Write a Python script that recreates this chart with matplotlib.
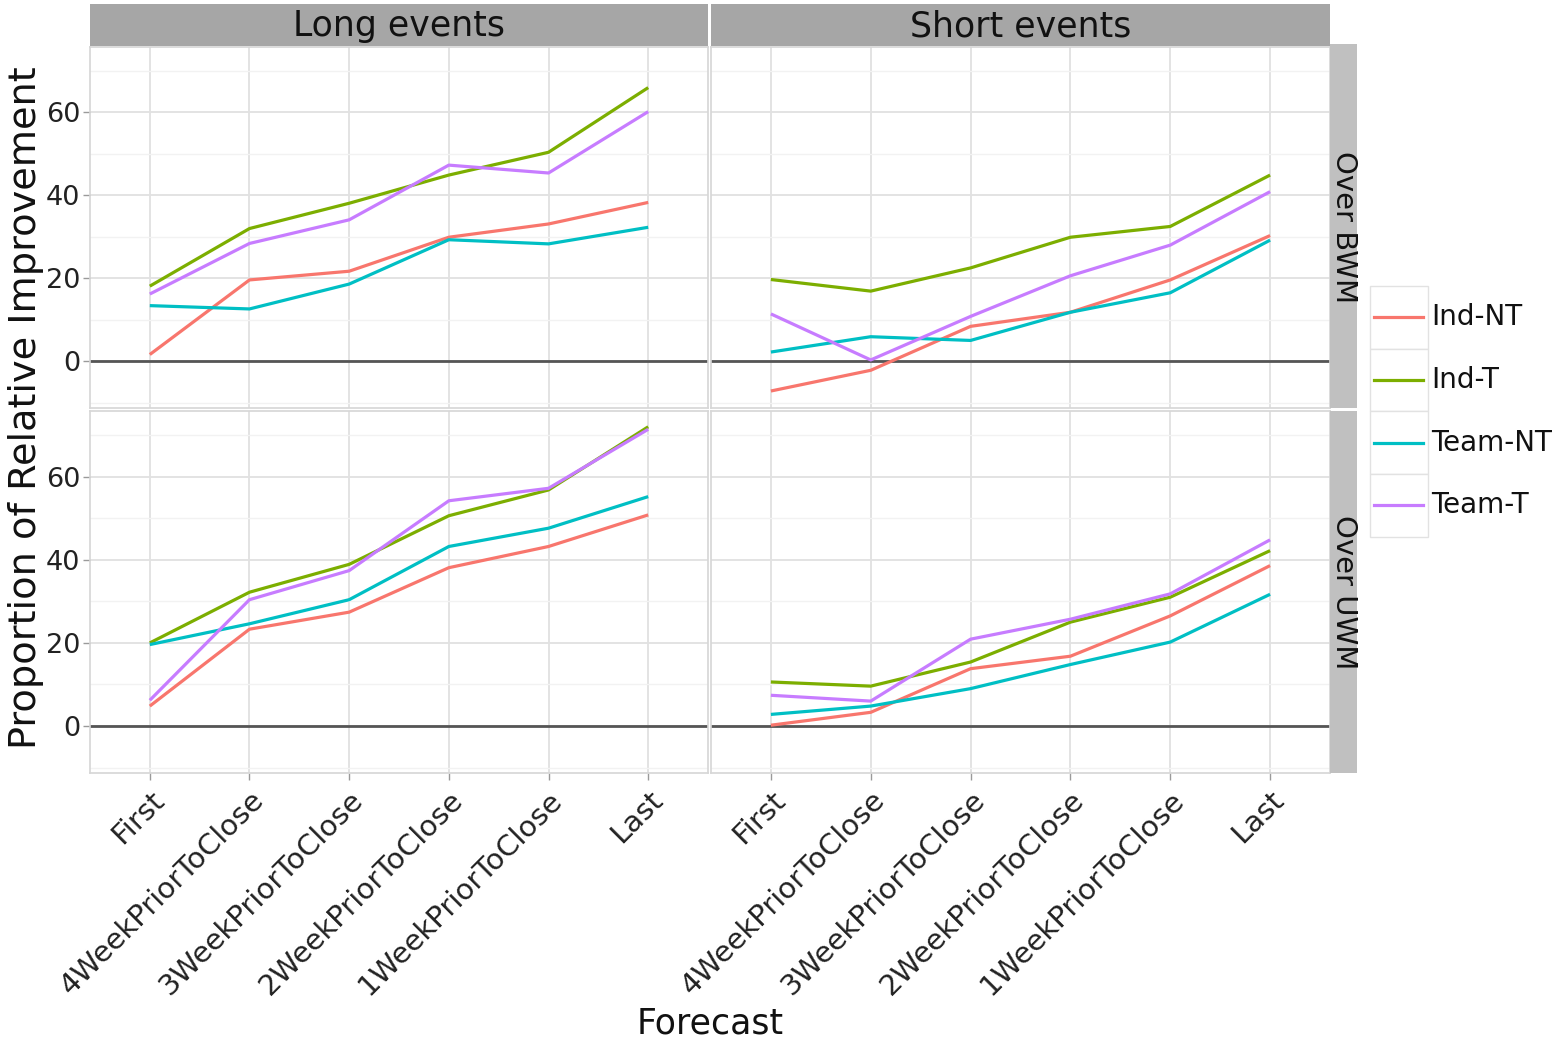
import matplotlib
matplotlib.use("Agg")
import matplotlib.pyplot as plt
from matplotlib.patches import Rectangle
from matplotlib.lines import Line2D
from matplotlib.ticker import MultipleLocator

plt.rcParams['font.family'] = ['DejaVu Sans']

# Forecast stages along the x axis
forecasts = ["First", "4WeekPriorToClose", "3WeekPriorToClose",
             "2WeekPriorToClose", "1WeekPriorToClose", "Last"]
groups = ["Ind-NT", "Ind-T", "Team-NT", "Team-T"]
colors = ["#F8766D", "#7CAE00", "#00BFC4", "#C77CFF"]
event_types = ["Long events", "Short events"]
baselines = ["Over BWM", "Over UWM"]

# Long events, improvement over BWM
long_bwm_ind_nt = [1.6, 19.6, 21.7, 29.9, 33.1, 38.3]
long_bwm_ind_t = [18.1, 32.0, 38.1, 44.9, 50.4, 66.0]
long_bwm_team_nt = [13.4, 12.6, 18.6, 29.3, 28.3, 32.3]
long_bwm_team_t = [16.2, 28.4, 34.1, 47.3, 45.4, 60.2]

# Short events, improvement over BWM
short_bwm_ind_nt = [-7.2, -2.2, 8.4, 11.8, 19.6, 30.3]
short_bwm_ind_t = [19.7, 16.9, 22.5, 29.9, 32.5, 44.9]
short_bwm_team_nt = [2.2, 5.9, 5.0, 11.8, 16.5, 29.2]
short_bwm_team_t = [11.4, 0.3, 10.8, 20.6, 28.0, 40.9]

# Long events, improvement over UWM
long_uwm_ind_nt = [4.8, 23.3, 27.4, 38.1, 43.2, 50.8]
long_uwm_ind_t = [20.0, 32.2, 38.9, 50.6, 56.8, 72.0]
long_uwm_team_nt = [19.6, 24.6, 30.4, 43.2, 47.6, 55.2]
long_uwm_team_t = [6.2, 30.4, 37.4, 54.2, 57.2, 71.4]

# Short events, improvement over UWM
short_uwm_ind_nt = [0.2, 3.3, 13.8, 16.8, 26.5, 38.6]
short_uwm_ind_t = [10.6, 9.6, 15.4, 25.0, 31.0, 42.2]
short_uwm_team_nt = [2.8, 4.8, 9.0, 14.8, 20.2, 31.7]
short_uwm_team_t = [7.4, 6.0, 20.9, 25.7, 31.8, 44.8]

panels = {
    (0, 0): [long_bwm_ind_nt, long_bwm_ind_t, long_bwm_team_nt, long_bwm_team_t],
    (0, 1): [short_bwm_ind_nt, short_bwm_ind_t, short_bwm_team_nt, short_bwm_team_t],
    (1, 0): [long_uwm_ind_nt, long_uwm_ind_t, long_uwm_team_nt, long_uwm_team_t],
    (1, 1): [short_uwm_ind_nt, short_uwm_ind_t, short_uwm_team_nt, short_uwm_team_t],
}

W, H = 1565, 1045
fig = plt.figure(figsize=(W / 100, H / 100), dpi=100)


def rect(x0, y0, x1, y1):
    """Pixel box (left, top, right, bottom) to figure fractions."""
    return [x0 / W, 1 - y1 / H, (x1 - x0) / W, (y1 - y0) / H]


col_x = [(90, 708), (711, 1330)]
row_y = [(47, 408), (411, 773)]
xpos = list(range(len(forecasts)))

for (r, c), series in panels.items():
    x0, x1 = col_x[c]
    y0, y1 = row_y[r]
    ax = fig.add_axes(rect(x0, y0, x1, y1))
    ax.set_xlim(-0.6, 5.6)
    ax.set_ylim(-11.3, 75.8)
    ax.yaxis.set_major_locator(MultipleLocator(20))
    ax.yaxis.set_minor_locator(MultipleLocator(20, offset=10))
    ax.set_xticks(xpos)
    ax.grid(True, which='major', color='#e1e1e1', lw=1.3)
    ax.grid(True, which='minor', axis='y', color='#f2f2f2', lw=1.0)
    ax.set_axisbelow(True)
    for sp in ax.spines.values():
        sp.set_color('#d6d6d6')
        sp.set_linewidth(1.2)
    ax.axhline(0, color='#555555', lw=2.0, zorder=2)
    for vals, col in zip(series, colors):
        ax.plot(xpos, vals, color=col, lw=2.3, zorder=3, solid_capstyle='butt')
    ax.tick_params(axis='both', which='minor', length=0)
    ax.tick_params(axis='y', which='major', length=5, color='#9a9a9a',
                   width=1, labelsize=19.5, pad=2, labelcolor='#222222')
    ax.tick_params(axis='x', which='major', length=5, color='#9a9a9a',
                   width=1, labelsize=21, pad=4, labelcolor='#222222')
    if c == 1:
        ax.tick_params(axis='y', labelleft=False, length=0)
    if r == 1:
        ax.set_xticklabels(forecasts, rotation=45, ha='right', va='top',
                           rotation_mode='anchor')
    else:
        ax.tick_params(axis='x', labelbottom=False, length=0)

# Column strips
for (x0, x1), label in zip(col_x, event_types):
    sax = fig.add_axes(rect(x0, 4, x1, 46))
    sax.set_xlim(0, 1)
    sax.set_ylim(0, 1)
    sax.axis('off')
    sax.add_patch(Rectangle((0, 0), 1, 1, facecolor='#a6a6a6',
                            edgecolor='none', transform=sax.transAxes))
    sax.text(0.5, 0.47, label, ha='center', va='center', fontsize=25,
             color='#111111', transform=sax.transAxes)

# Row strips
for (y0, y1), label in zip(row_y, baselines):
    sax = fig.add_axes(rect(1330, y0, 1357, y1))
    sax.set_xlim(0, 1)
    sax.set_ylim(0, 1)
    sax.axis('off')
    sax.add_patch(Rectangle((0, 0), 1, 1, facecolor='#c0c0c0',
                            edgecolor='none', transform=sax.transAxes))
    sax.text(0.5, 0.5, label, ha='center', va='center', rotation=-90,
             fontsize=21, color='#111111', transform=sax.transAxes)
cap = fig.add_axes(rect(1330, 44, 1357, 47))
cap.add_patch(Rectangle((0, 0), 1, 1, facecolor='#c0c0c0', edgecolor='none'))
cap.axis('off')

# Legend with individually boxed keys
lax = fig.add_axes(rect(1365, 284, 1565, 540))
lax.set_xlim(1365, 1565)
lax.set_ylim(540, 284)
lax.axis('off')
top = 286
step = 62.7
for i, (g, col) in enumerate(zip(groups, colors)):
    yt = top + i * step
    lax.add_patch(Rectangle((1370, yt), 58, step, facecolor='white',
                            edgecolor='#e2e2e2', lw=1.0))
    yc = yt + step / 2
    lax.add_line(Line2D([1374, 1423], [yc, yc], color=col, lw=2.3))
    lax.text(1431, yc, g, ha='left', va='center', fontsize=20, color='#111111')

fig.text(710 / W, 1 - 1024 / H, "Forecast", ha='center', va='center',
         fontsize=25, color='#111111')
fig.text(26 / W, 1 - 408 / H, "Proportion of Relative Improvement",
         ha='center', va='center', rotation=90, fontsize=27.5, color='#111111')

fig.savefig("out.png", dpi=100, facecolor='white')
